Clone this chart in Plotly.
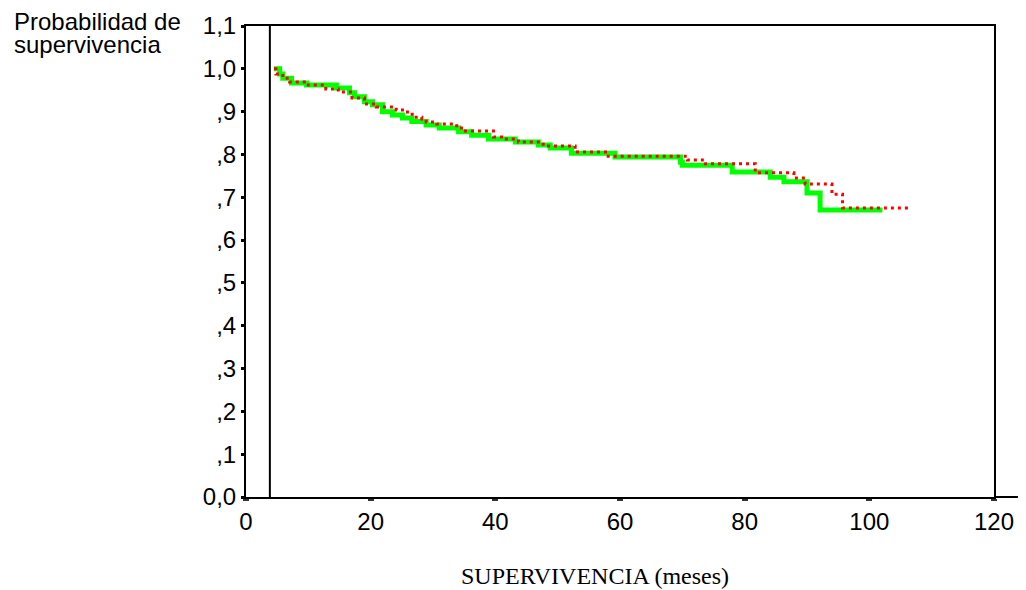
import plotly.graph_objects as go

# ---- data ----
green_t = [4.47, 5.4, 5.9, 7.3, 9.7, 14.5, 16.6, 17.4, 19.0, 20.3, 21.9, 23.5, 25.1, 26.6,
           28.9, 31.0, 34.1, 36.2, 38.9, 43.2, 46.9, 48.8, 52.2, 59.2, 69.7, 70.0, 78.0,
           84.1, 86.3, 90.0, 92.1, 102.1]
green_s = [1.0, 0.988, 0.978, 0.967, 0.962, 0.955, 0.944, 0.935, 0.923, 0.916, 0.90, 0.892,
           0.885, 0.877, 0.869, 0.862, 0.853, 0.845, 0.836, 0.829, 0.822, 0.815, 0.803,
           0.794, 0.782, 0.775, 0.759, 0.747, 0.736, 0.71, 0.670, 0.670]

red_t = [4.5, 4.8, 5.9, 7.0, 9.7, 12.8, 14.8, 17.0, 19.0, 20.9, 24.1, 25.9, 27.0, 28.2,
         28.9, 30.6, 33.8, 34.9, 39.7, 41.0, 43.7, 46.9, 48.0, 52.8, 58.1, 70.8, 73.7,
         81.7, 87.9, 89.7, 94.0, 95.7, 106.3]
red_s = [1.0, 0.988, 0.978, 0.969, 0.962, 0.953, 0.946, 0.932, 0.918, 0.911, 0.904, 0.894,
         0.887, 0.883, 0.876, 0.871, 0.862, 0.855, 0.841, 0.836, 0.829, 0.824, 0.820,
         0.806, 0.796, 0.787, 0.778, 0.757, 0.745, 0.731, 0.707, 0.675, 0.675]

x_ticks = [0, 20, 40, 60, 80, 100, 120]
y_ticks = [0.0, 0.1, 0.2, 0.3, 0.4, 0.5, 0.6, 0.7, 0.8, 0.9, 1.0, 1.1]
y_tick_labels = ["0,0", ",1", ",2", ",3", ",4", ",5", ",6", ",7", ",8", ",9", "1,0", "1,1"]
ref_line_x = 3.83

x_title = "SUPERVIVENCIA (meses)"
y_title_lines = ["Probabilidad de", "supervivencia"]

# ---- figure ----
fig = go.Figure()
fig.add_trace(go.Scatter(x=green_t, y=green_s, mode="lines", line_shape="hv",
                         line=dict(color="#00ff00", width=5), showlegend=False,
                         hoverinfo="skip"))
fig.add_trace(go.Scatter(x=red_t, y=red_s, mode="lines", line_shape="hv",
                         line=dict(color="#ff0000", width=3, dash="3px,4px"),
                         showlegend=False, hoverinfo="skip"))

fig.add_shape(type="line", xref="x", yref="paper", x0=ref_line_x, x1=ref_line_x,
              y0=0, y1=1, line=dict(color="black", width=2))
# x axis line running past the frame
fig.add_shape(type="line", xref="paper", yref="paper", x0=1, x1=1.032, y0=0, y1=0,
              line=dict(color="black", width=2))

fig.add_annotation(text=x_title, xref="paper", yref="paper", x=0.4668, y=-0.168,
                   xanchor="center", yanchor="middle", showarrow=False,
                   font=dict(family="Liberation Serif", size=24, color="black"))
for i, line in enumerate(y_title_lines):
    fig.add_annotation(text=line, xref="paper", yref="paper", x=-0.3125,
                       y=1.010 - i * 0.049, xanchor="left", yanchor="middle",
                       align="left", showarrow=False,
                       font=dict(family="Liberation Sans", size=24, color="black"))

fig.update_layout(
    width=1026, height=590,
    margin=dict(l=246, r=28, t=26, b=93),
    paper_bgcolor="white", plot_bgcolor="white",
    font=dict(family="Liberation Sans", size=24, color="black"),
    xaxis=dict(range=[0, 120], tickvals=x_ticks, showgrid=False, zeroline=False,
               showline=True, linecolor="black", linewidth=2, mirror=True,
               ticks="outside", ticklen=2, tickwidth=6, tickcolor="#333333",
               ticklabelstandoff=0, ticklabeloverflow="allow", tickfont=dict(size=24)),
    yaxis=dict(range=[0, 1.1], tickvals=y_ticks, ticktext=y_tick_labels,
               showgrid=False, zeroline=False, showline=True, linecolor="black",
               linewidth=2, mirror=True, ticks="outside", ticklen=3, tickwidth=3,
               tickcolor="black", tickfont=dict(size=24)),
)

fig.write_html("out.html", config={"displayModeBar": False},
               post_script="document.body.style.margin='0';document.body.style.overflow='hidden';")
